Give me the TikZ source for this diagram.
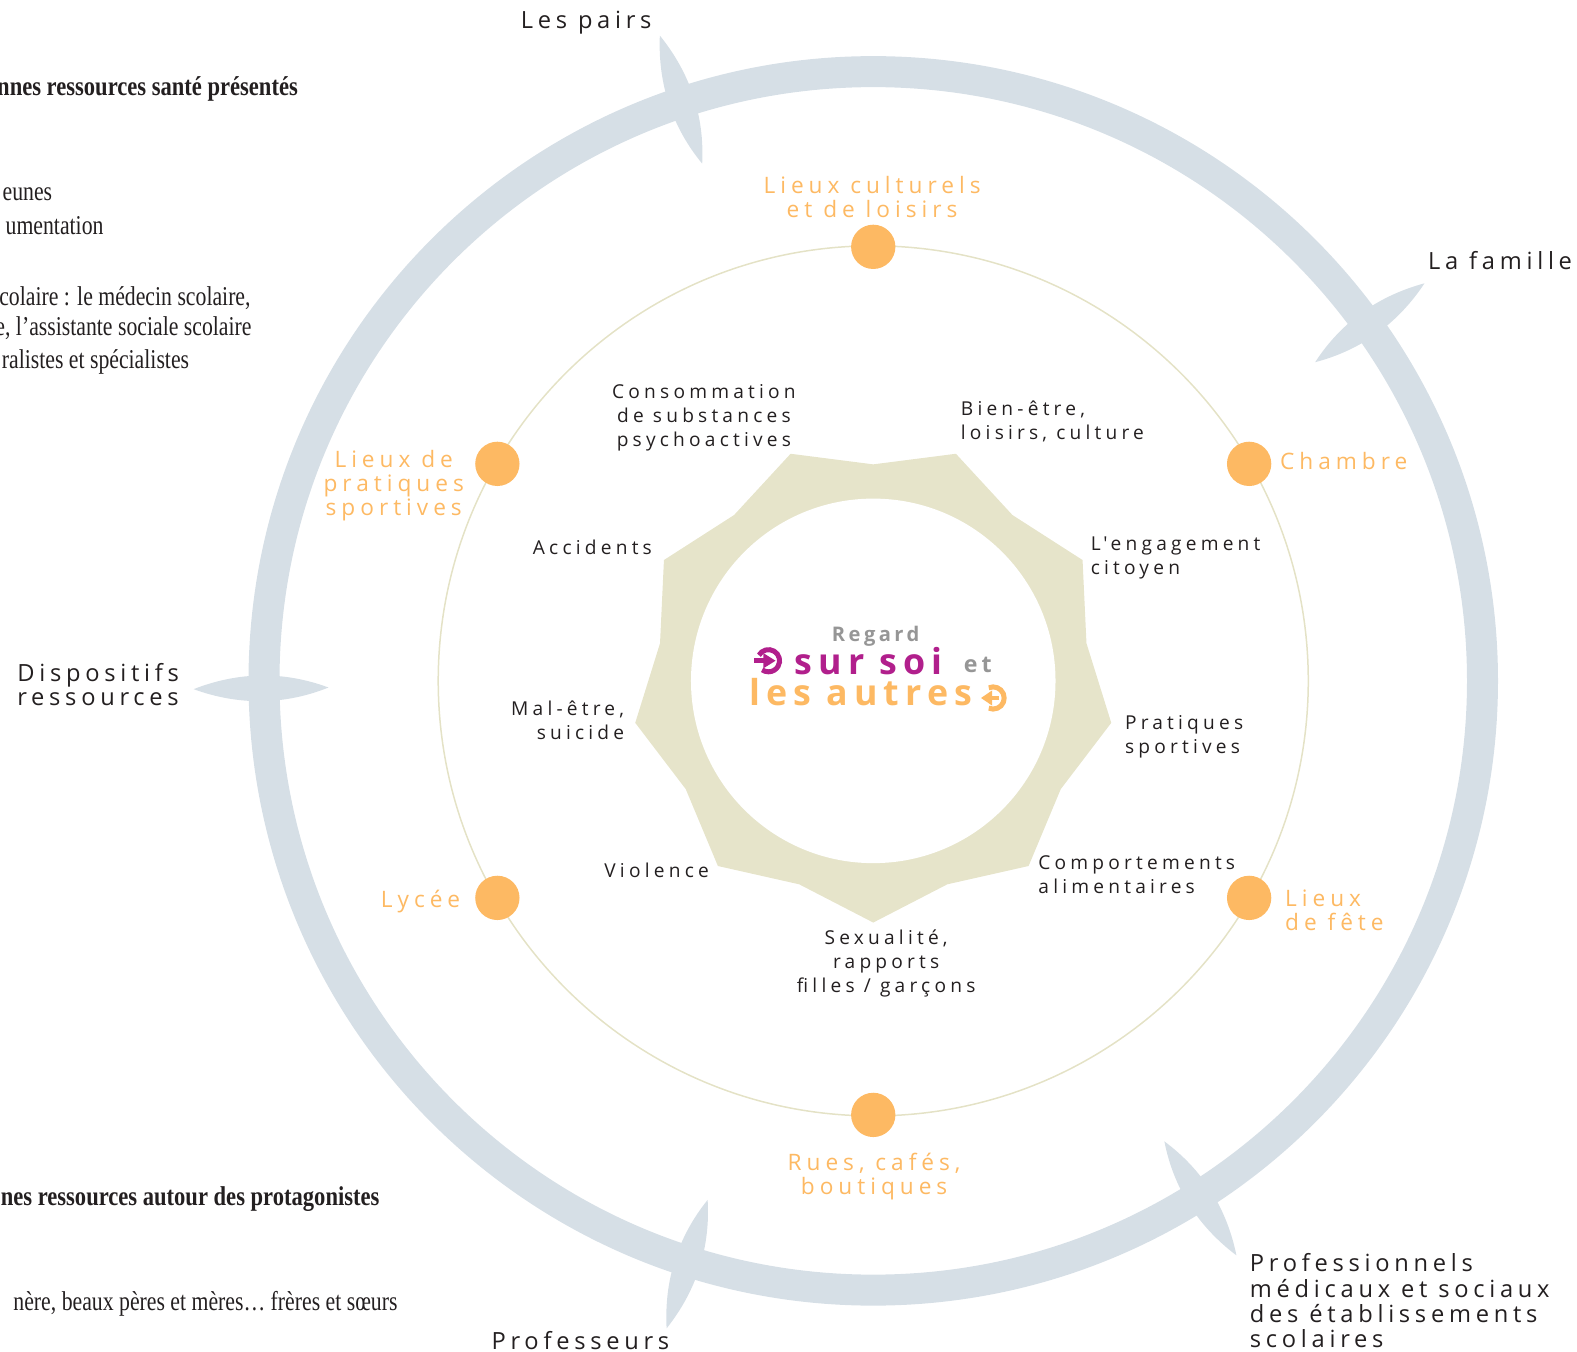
\documentclass[tikz,border=0pt]{standalone}
\usepackage{fontspec}
\setmainfont{Open Sans}
\newfontfamily\labf{Open Sans}[LetterSpace=22]
\newfontfamily\orf{Open Sans}[LetterSpace=22]
\newfontfamily\outf{Open Sans}[LetterSpace=20]
\newfontfamily\titf{Open Sans}[LetterSpace=17]
\newfontfamily\serc{Liberation Serif}[FakeStretch=0.80]
\newfontfamily\serbf{Liberation Serif}[FakeStretch=0.83]
\definecolor{ringc}{RGB}{214,223,230}
\definecolor{starc}{RGB}{230,228,202}
\definecolor{thinc}{RGB}{228,226,198}
\definecolor{orng}{RGB}{253,185,99}
\definecolor{mag}{RGB}{177,31,140}
\definecolor{gry}{RGB}{150,150,150}
\definecolor{txt}{RGB}{35,31,32}
\newcommand\ml[2]{\begin{tabular}[t]{@{}#1@{}}#2\end{tabular}}
\begin{document}
\begin{tikzpicture}[x=1bp,y=-1bp,
  inl/.style={font={\labf\fontsize{19bp}{23.8bp}\selectfont}, text=txt, inner sep=0pt},
  orl/.style={font={\orf\fontsize{22.5bp}{23.8bp}\selectfont}, text=orng, inner sep=0pt},
  outl/.style={font={\outf\fontsize{23.5bp}{23.9bp}\selectfont}, text=txt, inner sep=0pt},
  tit/.style={font={\titf\bfseries\fontsize{35.5bp}{40bp}\selectfont}, inner sep=0pt},
  titsm/.style={font={\titf\bfseries\fontsize{20bp}{24bp}\selectfont}, text=gry, inner sep=0pt},
  ser/.style={font={\serc\fontsize{27bp}{30bp}\selectfont}, text=txt, inner sep=0pt, anchor=base east},
  serb/.style={font={\serbf\bfseries\fontsize{27bp}{30bp}\selectfont}, text=txt, inner sep=0pt, anchor=base east},
  dot/.style={circle, fill=orng, minimum size=44bp, inner sep=0pt},
  blade/.style={fill=ringc}
]
\useasboundingbox (0,0) rectangle (1577,1352);
\begin{scope}[scale=1.007, transform shape]
\coordinate (C) at (867,676);
% outer ring
\draw[ringc, line width=31bp] (C) circle[radius=605bp];
\foreach \a in {108.3,35.8,180.7,-107.7,-57.7}{
  \fill[blade, shift={(C)}, rotate=\a] (541bp,0bp) .. controls (585bp,17bp) and (630bp,17bp) .. (675bp,0bp)
     .. controls (630bp,-17bp) and (585bp,-17bp) .. (541bp,0bp) -- cycle;
}
% thin circle
\draw[thinc, line width=1.5bp] (C) circle[radius=432bp];
% star
\fill[starc, shift={(C)}] (10:215bp) \foreach \k in {0,...,8}{ -- ({30+40*\k}:240bp) -- ({50+40*\k}:215bp) } -- cycle;
\fill[white] (C) circle[radius=181bp];
% dots
\foreach \a/\n in {90/d1,30/d2,150/d3,210/d4,330/d5,270/d6}
  \node[dot] (\n) at ([shift={(\a:431bp)}]C) {};
% inner labels
\node[inl, anchor=base] (t1) at (699,396) {\ml{c}{Consommation\\de substances\\psychoactives}};
\node[inl, anchor=base west] (t2) at (954,413) {\ml{l}{Bien-être,\\loisirs, culture}};
\node[inl, anchor=base west] (t3) at (1083,547) {\ml{l}{L'engagement\\citoyen}};
\node[inl, anchor=base west] (t4) at (1117,724) {\ml{l}{Pratiques\\sportives}};
\node[inl, anchor=base west] (t5) at (1031,863) {\ml{l}{Comportements\\alimentaires}};
\node[inl, anchor=base] (t6) at (880,938) {\ml{c}{Sexualité,\\rapports\\filles / garçons}};
\node[inl, anchor=base west] (t7) at (600,871) {Violence};
\node[inl, anchor=base east] (t8) at (620,711) {\ml{r}{Mal-être,\\suicide}};
\node[inl, anchor=base west] (t9) at (529,551) {Accidents};
% orange labels
\node[orl, anchor=base] (o1) at (866,192) {\ml{c}{Lieux culturels\\et de loisirs}};
\node[orl, anchor=base west] (o2) at (1271,466) {Chambre};
\node[orl, anchor=base west] (o3) at (1276,900) {\ml{l}{Lieux\\de fête}};
\node[orl, anchor=base] (o4) at (868,1162) {\ml{c}{Rues, cafés,\\boutiques}};
\node[orl, anchor=base west] (o5) at (378,901) {Lycée};
\node[orl, anchor=base] (o6) at (391,464) {\ml{c}{Lieux de\\pratiques\\sportives}};
% outer labels
\node[outl, anchor=base west] (r1) at (517,28) {Les pairs};
\node[outl, anchor=base west] (r2) at (1418,268) {La famille};
\node[outl, anchor=base west] (r3) at (17,677) {\ml{l}{Dispositifs\\ressources}};
\node[outl, anchor=base west] (r4) at (488,1340) {Professeurs};
\node[outl, anchor=base west] (r5) at (1241,1263) {\ml{l}{Professionnels\\médicaux et sociaux\\des établissements\\scolaires}};
% title
\node[titsm, anchor=base west] (g1) at (826,637) {Regard};
\node[tit, text=mag, anchor=base west] (g2) at (789,670) {sur soi};
\node[titsm, font={\titf\bfseries\fontsize{23bp}{24bp}\selectfont}, anchor=base west] (g3) at (957,668) {et};
\node[tit, text=orng, anchor=base west] (g4) at (744,701) {les autres};
% icons
\coordinate (i1) at (763,656);
\draw[mag, line width=5bp] ([shift={(150:11bp)}]i1) arc[start angle=150, end angle=-125, radius=11bp];
\draw[mag, line width=4.5bp] ([xshift=-14bp]i1) -- ([xshift=-3bp]i1);
\fill[mag] ([xshift=-5bp,yshift=7.5bp]i1) -- ([xshift=7bp]i1) -- ([xshift=-5bp,yshift=-7.5bp]i1) -- cycle;
\coordinate (i2) at (986,693);
\draw[orng, line width=5bp] ([shift={(113:11bp)}]i2) arc[start angle=113, end angle=-113, radius=11bp];
\draw[orng, line width=4.5bp] ([xshift=6bp]i2) -- ([xshift=-3bp]i2);
\fill[orng] ([xshift=-1bp,yshift=7.5bp]i2) -- ([xshift=-12bp]i2) -- ([xshift=-1bp,yshift=-7.5bp]i2) -- cycle;
% left serif text (clipped)
\node[serb] (s1) at (296,95) {nnes ressources santé présentés};
\node[ser] (s2) at (52,199) {eunes};
\node[ser] (s3) at (103,233) {umentation};
\node[ser] (s4) at (249,303) {colaire : le médecin scolaire,};
\node[ser] (s5) at (250,333) {e, l’assistante sociale scolaire};
\node[ser] (s6) at (188,366) {ralistes et spécialistes};
\node[serb] (s7) at (377,1197) {nes ressources autour des protagonistes};
\node[ser] (s8) at (395,1301) {nère, beaux pères et mères… frères et sœurs};
\end{scope}
\end{tikzpicture}
\end{document}
